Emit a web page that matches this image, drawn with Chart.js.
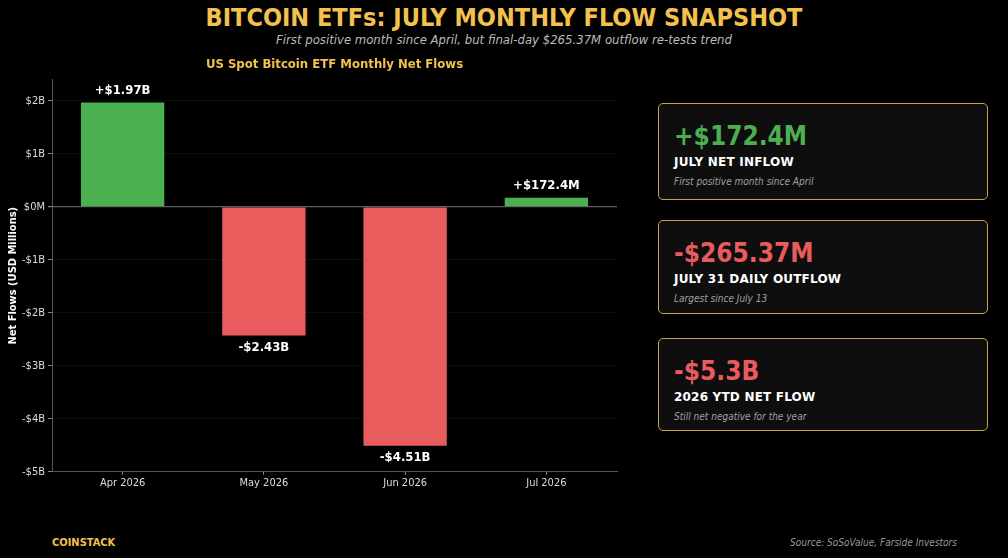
<!DOCTYPE html>
<html>
<head>
<meta charset="utf-8">
<script src="https://cdn.jsdelivr.net/npm/chart.js@4.4.1/dist/chart.umd.min.js"></script>
<style>
  html, body { margin: 0; padding: 0; background: #000; }
  body { width: 1008px; height: 558px; position: relative; overflow: hidden; font-family: "DejaVu Sans Condensed", "DejaVu Sans", sans-serif; font-stretch: condensed; }
  .title { position: absolute; left: 0; width: 1008px; top: 3px; text-align: center; color: #f2c14e; font-weight: bold; font-size: 25px; }
  .subtitle { position: absolute; left: 0; width: 1008px; top: 32px; text-align: center; color: #bbb; font-style: italic; font-size: 13px; }
  .chart-box { position: absolute; left: 0; top: 52px; width: 630px; height: 440px; }
  .card { position: absolute; left: 658px; width: 330px; box-sizing: border-box; border: 1.5px solid #c9a14a; border-radius: 5px; background: #0e0e0e; }
  .card .val { position: absolute; left: 15px; font-weight: bold; font-size: 26px; }
  .card .lbl { position: absolute; left: 15px; color: #fff; font-weight: bold; font-size: 12px; letter-spacing: 0.2px; font-family: "DejaVu Sans", sans-serif; font-stretch: normal; }
  .card .note { position: absolute; left: 15px; color: #a0a0a0; font-style: italic; font-size: 10px; }
  .brand { position: absolute; left: 52px; top: 536px; color: #f2c14e; font-weight: bold; font-size: 11px; }
  .source { position: absolute; right: 51px; top: 537px; color: #999; font-style: italic; font-size: 10px; }
</style>
</head>
<body>
<div class="title">BITCOIN ETFs: JULY MONTHLY FLOW SNAPSHOT</div>
<div class="subtitle">First positive month since April, but final-day $265.37M outflow re-tests trend</div>
<div class="chart-box"><canvas id="flowChart"></canvas></div>
<div id="cards"></div>
<div class="brand">COINSTACK</div>
<div class="source">Source: SoSoValue, Farside Investors</div>

<script>
// Data (USD millions)
const months = ['Apr 2026', 'May 2026', 'Jun 2026', 'Jul 2026'];
const netFlows = [1970, -2430, -4510, 172.4];
const flowLabels = ['+$1.97B', '-$2.43B', '-$4.51B', '+$172.4M'];
const yTicks = [-5000, -4000, -3000, -2000, -1000, 0, 1000, 2000];

// Stat cards
const cardValues = ['+$172.4M', '-$265.37M', '-$5.3B'];
const cardTitles = ['JULY NET INFLOW', 'JULY 31 DAILY OUTFLOW', '2026 YTD NET FLOW'];
const cardNotes = ['First positive month since April', 'Largest since July 13', 'Still net negative for the year'];

const GREEN = '#4caf50';
const RED = '#e85c5e';
const FONT = '"DejaVu Sans Condensed", "DejaVu Sans", sans-serif';

// Build the cards
const cardTops = [103, 220, 338];
const cardHeights = [97, 94, 93];
const cardsEl = document.getElementById('cards');
cardValues.forEach((v, i) => {
    const card = document.createElement('div');
    card.className = 'card';
    card.style.top = cardTops[i] + 'px';
    card.style.height = cardHeights[i] + 'px';
    const color = v.startsWith('+') ? GREEN : RED;
    card.innerHTML =
        '<div class="val" style="top:17px;color:' + color + '">' + v + '</div>' +
        '<div class="lbl" style="top:51px">' + cardTitles[i] + '</div>' +
        '<div class="note" style="top:72px">' + cardNotes[i] + '</div>';
    cardsEl.appendChild(card);
});

// Value labels above / below bars
const barLabelPlugin = {
    id: 'barLabels',
    afterDatasetsDraw(chart) {
        const ctx = chart.ctx;
        const meta = chart.getDatasetMeta(0);
        ctx.save();
        ctx.font = 'bold 13px ' + FONT;
        ctx.fillStyle = '#fff';
        ctx.textAlign = 'center';
        ctx.textBaseline = 'middle';
        meta.data.forEach((bar, i) => {
            const y = netFlows[i] >= 0 ? bar.y - 12 : bar.y + 12;
            ctx.fillText(flowLabels[i], bar.x, y);
        });
        ctx.restore();
    }
};

function fmtTick(v) {
    if (v === 0) return '$0M';
    const b = Math.abs(v) / 1000;
    return (v < 0 ? '-' : '') + '$' + b + 'B';
}

Chart.defaults.font.family = FONT;

new Chart(document.getElementById('flowChart'), {
    type: 'bar',
    data: {
        labels: months,
        datasets: [{
            data: netFlows,
            backgroundColor: netFlows.map(v => v >= 0 ? GREEN : RED),
            borderWidth: 0,
            barPercentage: 0.59,
            categoryPercentage: 1
        }]
    },
    options: {
        responsive: true,
        maintainAspectRatio: false,
        animation: false,
        layout: { padding: { left: 0, right: 13, top: 0, bottom: 0 } },
        plugins: {
            legend: { display: false },
            tooltip: { enabled: false },
            title: {
                display: true,
                fullSize: false,
                text: 'US Spot Bitcoin ETF Monthly Net Flows',
                color: '#f2c14e',
                font: { size: 13, weight: 'bold' },
                padding: { top: 5, bottom: 7 }
            }
        },
        scales: {
            x: {
                grid: {
                    display: true,
                    drawOnChartArea: false,
                    offset: false,
                    tickLength: 3,
                    tickColor: '#888'
                },
                border: { display: true, color: '#555' },
                ticks: { color: '#ddd', font: { size: 11 }, padding: 2 }
            },
            y: {
                min: -5000,
                max: 2400,
                afterBuildTicks: s => { s.ticks = yTicks.map(v => ({ value: v })); },
                afterFit: s => { s.width = 52; },
                grid: {
                    color: ctx => ctx.tick && ctx.tick.value === 0 ? '#5c5c5c' : 'rgba(255,255,255,0.05)',
                    lineWidth: ctx => ctx.tick && ctx.tick.value === 0 ? 1.2 : 1,
                    tickLength: 4,
                    tickColor: '#888'
                },
                border: { display: true, color: '#555' },
                ticks: {
                    color: '#ddd',
                    font: { size: 11 },
                    padding: 3,
                    callback: v => fmtTick(v)
                },
                title: {
                    display: true,
                    text: 'Net Flows (USD Millions)',
                    color: '#fff',
                    font: { size: 11, weight: 'bold' },
                    padding: { top: 7, bottom: 0 }
                }
            }
        }
    },
    plugins: [barLabelPlugin]
});
</script>
</body>
</html>
